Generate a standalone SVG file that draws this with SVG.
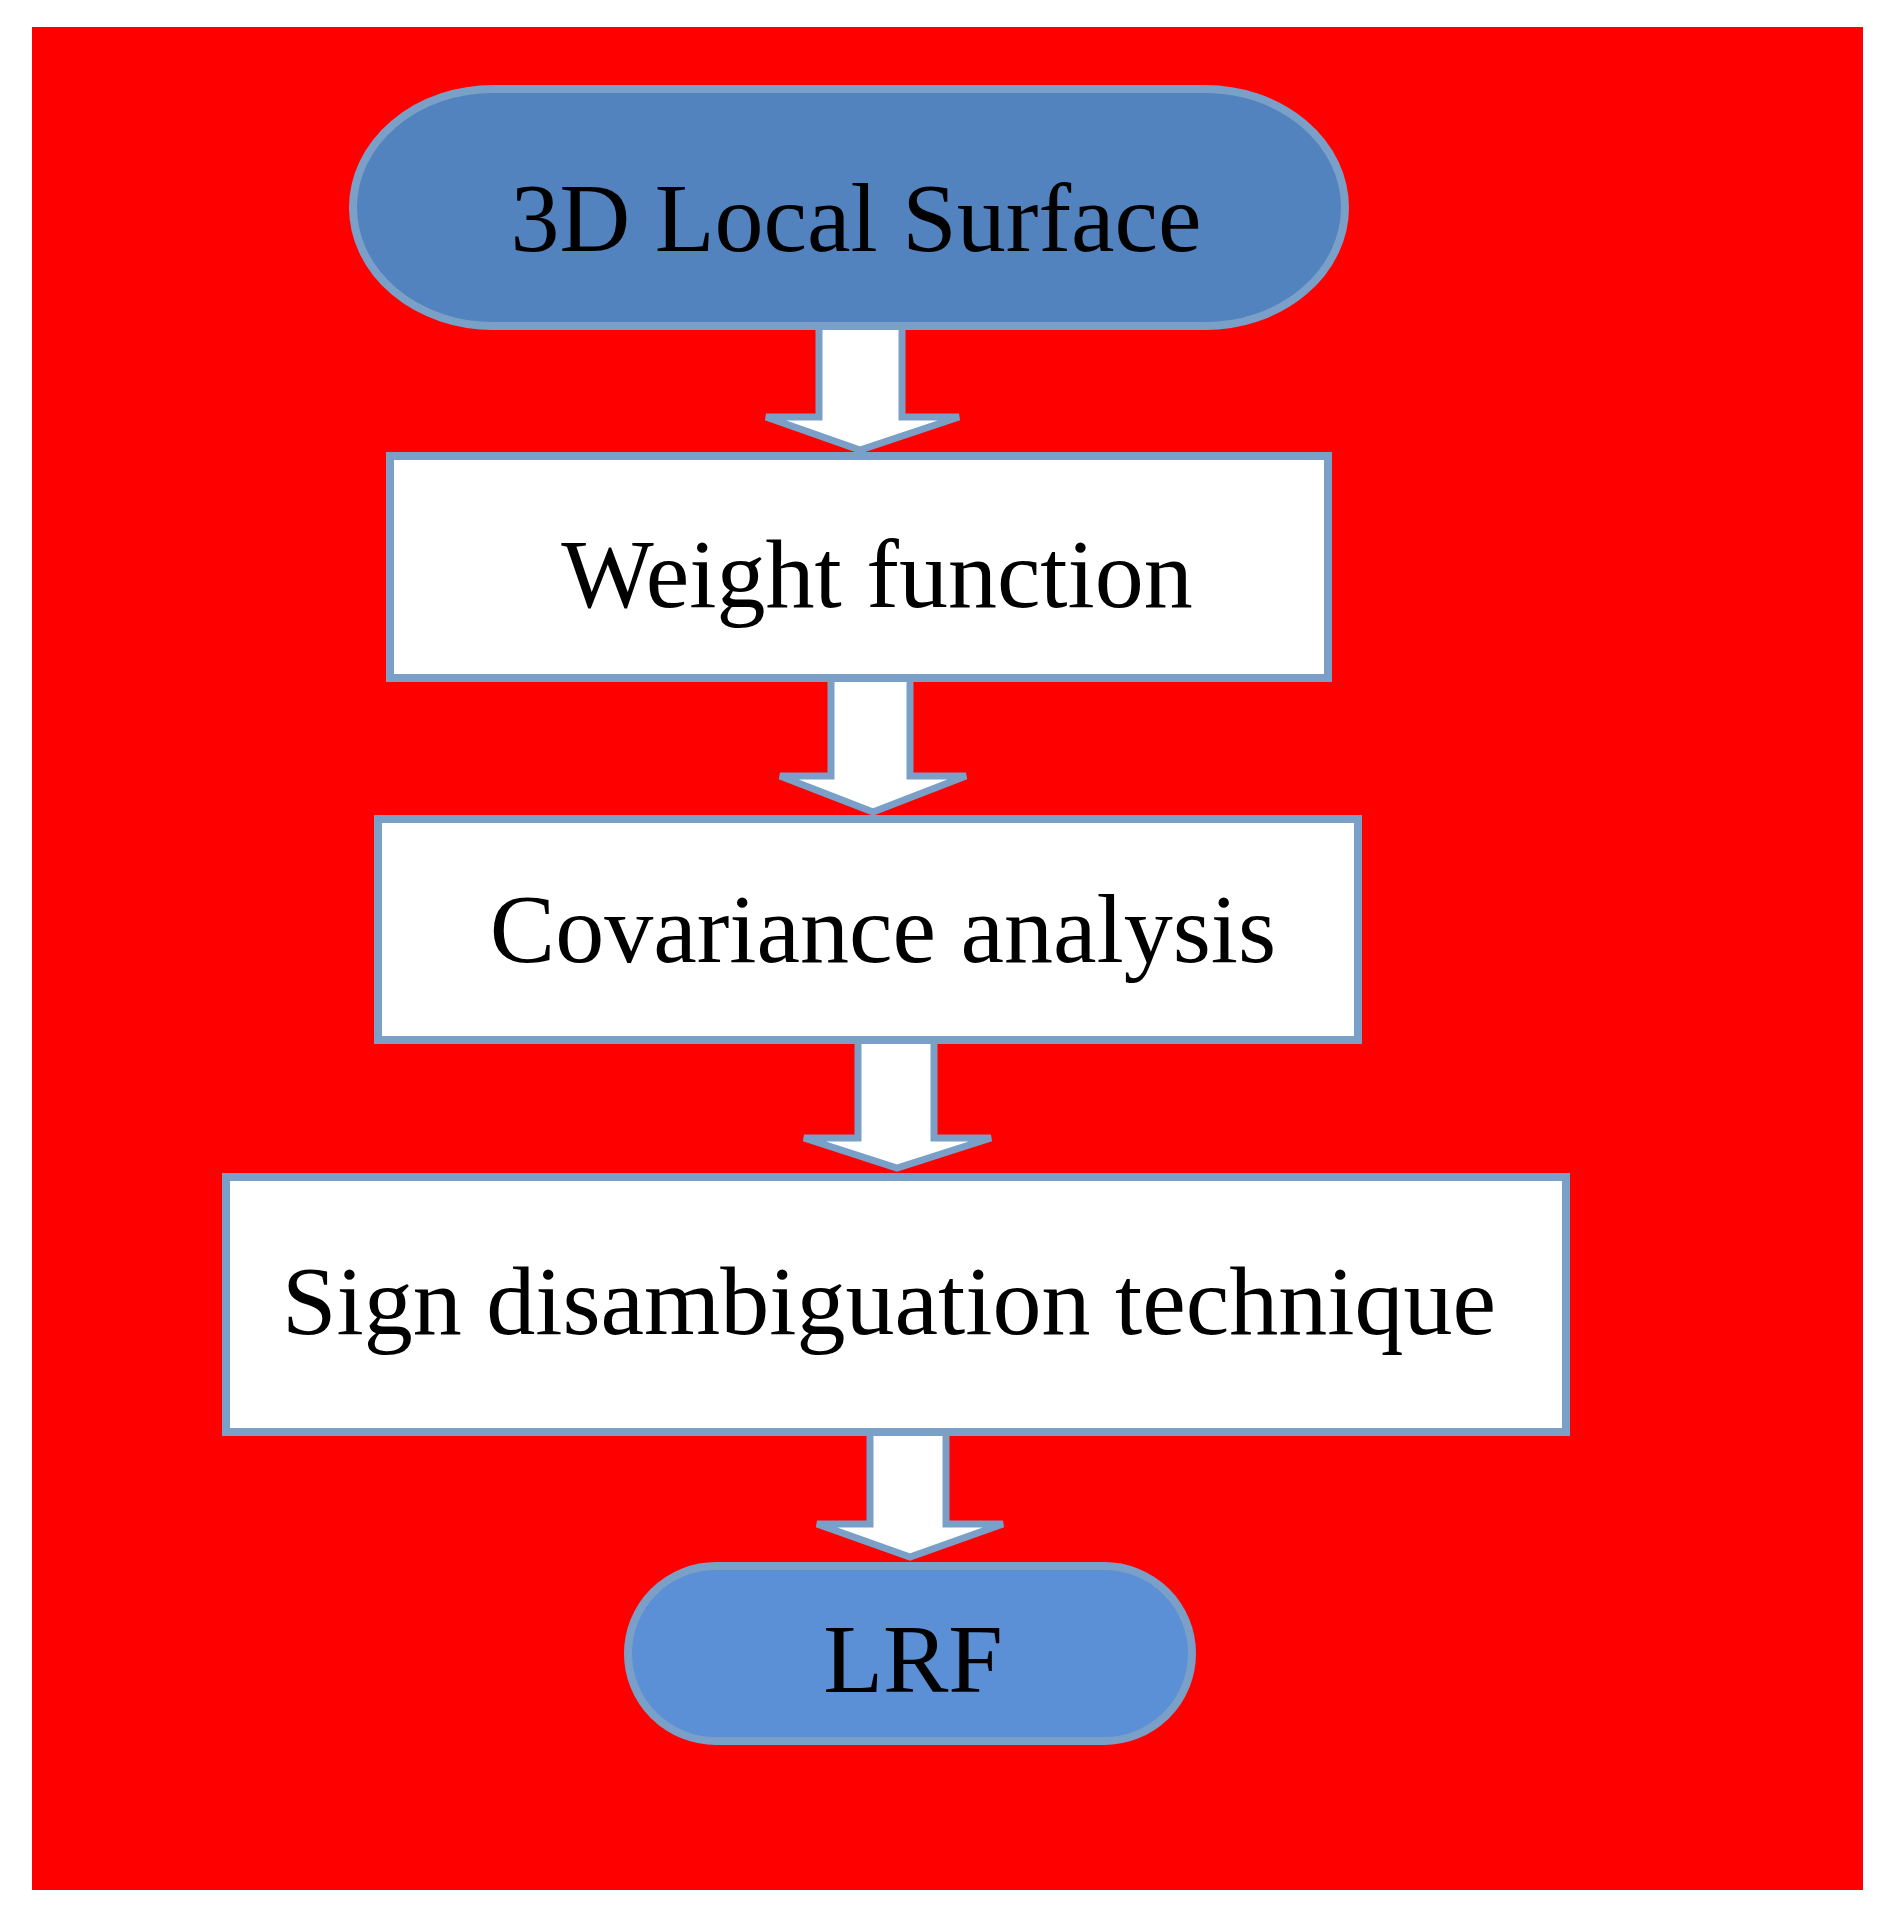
<svg xmlns="http://www.w3.org/2000/svg" width="1883" height="1919" viewBox="0 0 1883 1919">
<style>
.n{stroke:#7BA0C8;stroke-width:8}
.b{fill:#fff}
.a{fill:#fff;stroke:#7BA0C8;stroke-width:7;stroke-linejoin:miter}
text{font-family:"Liberation Serif",serif;font-size:98px;fill:#000;text-anchor:middle}
</style>
<rect width="1883" height="1919" fill="#fff"/>
<rect x="32" y="27" width="1831" height="1863" fill="#ff0000"/>
<g id="connectors">
<path class="a" d="M819 326V417H766L860 450L959 417H902V326Z"/>
<path class="a" d="M831 678V776H780L873 812L966 776H910V678Z"/>
<path class="a" d="M858 1040V1138H804L897 1168L991 1138H934V1040Z"/>
<path class="a" d="M870 1432V1524H817L910 1557L1003 1524H946V1432Z"/>
</g>
<g id="n1"><rect class="n" x="353" y="89" width="992" height="237" rx="140" fill="#5283BE"/><text x="856" y="251">3D Local Surface</text></g>
<g id="n2"><rect class="n b" x="390" y="456" width="938" height="222"/><text x="877" y="607">Weight function</text></g>
<g id="n3"><rect class="n b" x="378" y="819" width="980" height="221"/><text x="883" y="962">Covariance analysis</text></g>
<g id="n4"><rect class="n b" x="226" y="1177" width="1340" height="255"/><text x="889" y="1334">Sign disambiguation technique</text></g>
<g id="n5"><rect class="n" x="628" y="1566" width="564" height="175" rx="88" fill="#5B8FD6"/><text x="913" y="1692">LRF</text></g>
</svg>
